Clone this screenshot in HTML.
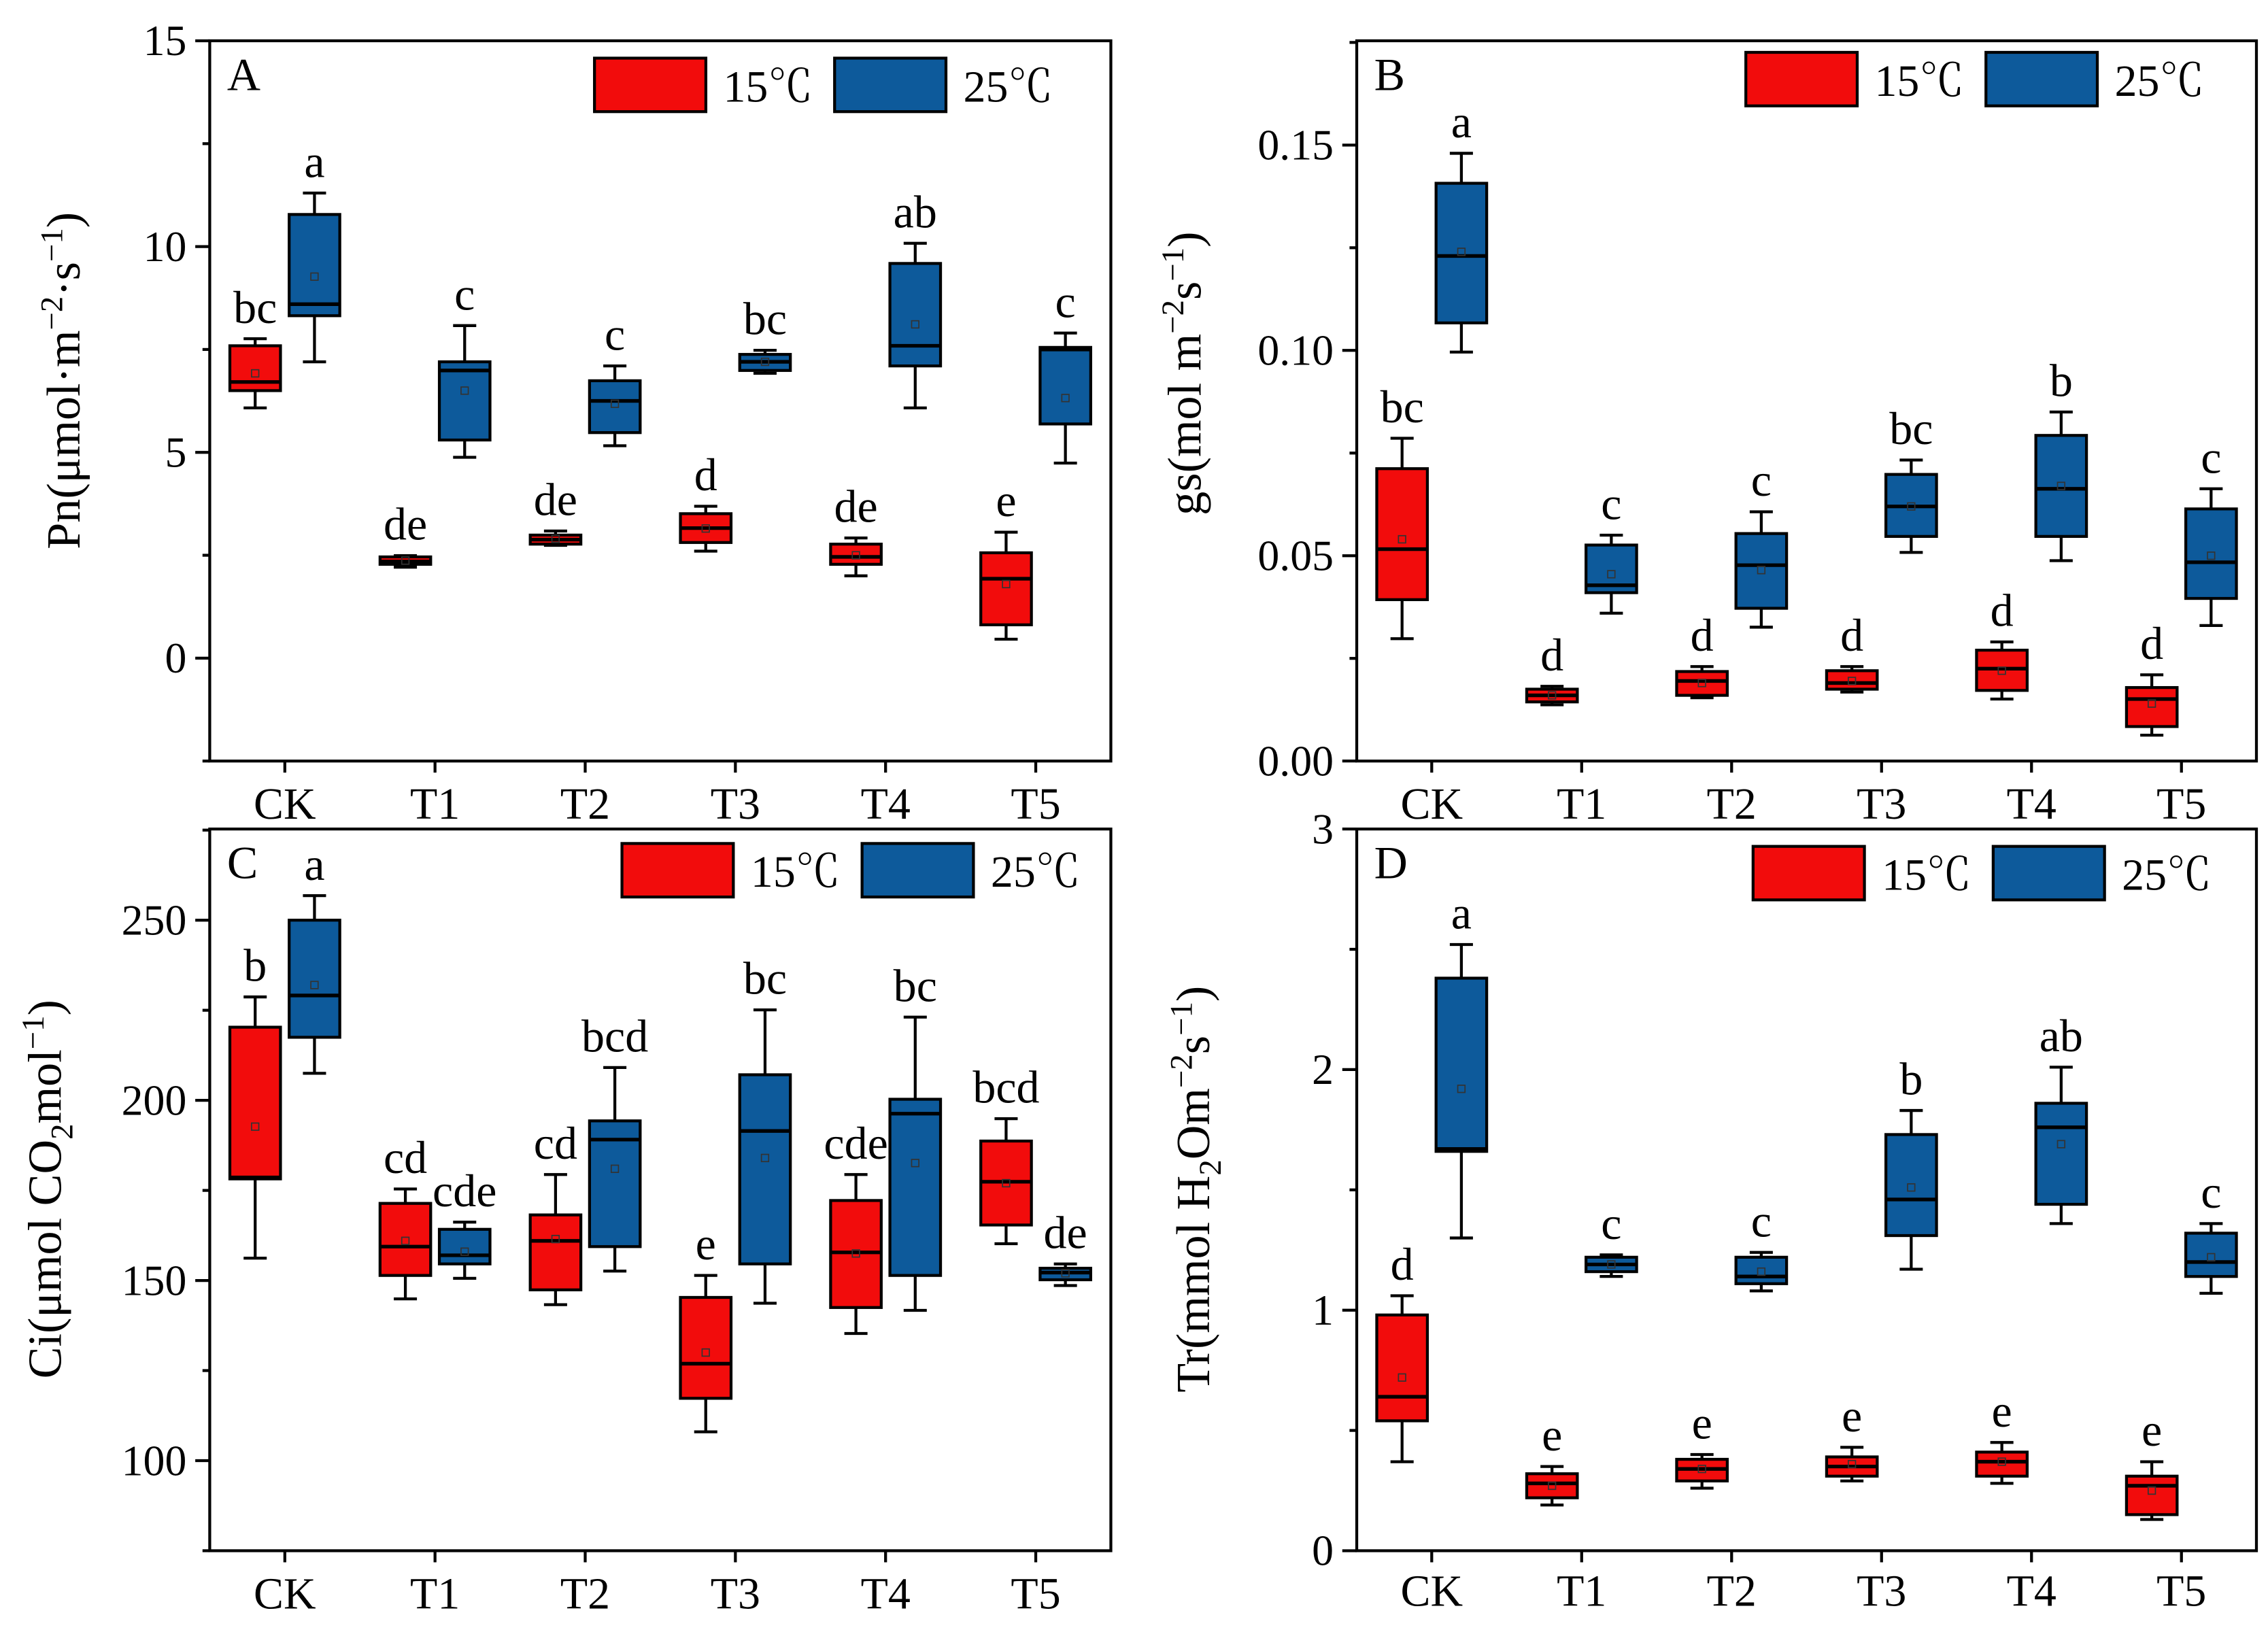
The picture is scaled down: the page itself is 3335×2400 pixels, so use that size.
<!DOCTYPE html>
<html><head><meta charset="utf-8">
<style>
html,body{margin:0;padding:0;background:#fff;}
svg{display:block;}
text{font-family:"Liberation Serif",serif;fill:#000;}
.leg{font-family:"Liberation Serif","Noto Serif CJK SC",serif;}
</style></head>
<body>
<svg id="chart" width="3335" height="2400" viewBox="0 0 1568 1128" xmlns="http://www.w3.org/2000/svg"></svg>
<script>
// Data: each box = [whiskerMin, q1, median, q3, whiskerMax, mean]
const categories = ["CK","T1","T2","T3","T4","T5"];
const seriesNames = ["15℃","25℃"];

const pnRed  = [[6.08,6.5,6.71,7.59,7.76,6.92],[2.21,2.28,2.35,2.46,2.49,2.37],[2.74,2.77,2.88,2.99,3.09,2.9],[2.6,2.81,3.16,3.51,3.69,3.15],[2.0,2.28,2.46,2.77,2.92,2.5],[0.46,0.81,1.93,2.56,3.06,1.8]];
const pnBlue = [[7.2,8.32,8.6,10.78,11.3,9.27],[4.88,5.3,6.99,7.2,8.08,6.5],[5.16,5.48,6.25,6.74,7.1,6.18],[6.92,6.99,7.2,7.38,7.48,7.2],[6.08,7.1,7.59,9.59,10.08,8.11],[4.74,5.69,7.5,7.55,7.9,6.32]];
const pnLabelsRed  = ["bc","de","de","d","de","e"];
const pnLabelsBlue = ["a","c","c","bc","ab","c"];
const pnTicks = [0,5,10,15];

const gsRed  = [[0.0298,0.0393,0.0516,0.0712,0.0786,0.054],[0.0137,0.0144,0.016,0.0175,0.0182,0.016],[0.0154,0.016,0.0195,0.0218,0.023,0.019],[0.0168,0.0175,0.019,0.022,0.023,0.0195],[0.0151,0.0172,0.0225,0.027,0.029,0.022],[0.0063,0.0084,0.0151,0.0179,0.021,0.014]];
const gsBlue = [[0.0996,0.1067,0.123,0.1407,0.148,0.124],[0.036,0.041,0.0428,0.0526,0.055,0.0455],[0.0326,0.0372,0.0477,0.0554,0.0607,0.0465],[0.0508,0.0547,0.062,0.0698,0.0733,0.062],[0.0488,0.0547,0.0663,0.0793,0.085,0.067],[0.033,0.0396,0.0484,0.0614,0.0663,0.05]];
const gsLabelsRed  = ["bc","d","d","d","d","d"];
const gsLabelsBlue = ["a","c","c","bc","b","c"];
const gsTicks = [0,0.05,0.10,0.15];

const ciRed  = [[156.2,178.2,178.6,220.3,228.7,192.7],[144.9,151.4,159.4,171.4,175.4,161],[143.3,147.4,161,168.2,179.4,161.5],[108,117.3,126.9,145.3,151.4,130],[135.3,142.5,157.8,172.2,179.4,157.5],[160.2,165.4,177.4,188.7,194.9,177]];
const ciBlue = [[207.5,217.5,229.1,250,256.8,232],[150.6,154.6,157,164.2,166.2,158],[152.6,159.4,189.1,194.3,209.1,181],[143.7,154.6,191.5,207.1,225.1,184],[141.7,151.4,196.3,200.3,223.1,182.6],[148.6,150.2,152.2,153.4,154.6,152]];
const ciLabelsRed  = ["b","cd","cd","e","cde","bcd"];
const ciLabelsBlue = ["a","cde","bcd","bc","bc","de"];
const ciTicks = [100,150,200,250];

const trRed  = [[0.37,0.54,0.64,0.98,1.06,0.72],[0.19,0.22,0.28,0.32,0.35,0.27],[0.26,0.29,0.34,0.38,0.4,0.34],[0.29,0.31,0.35,0.39,0.43,0.36],[0.28,0.31,0.37,0.41,0.45,0.37],[0.13,0.15,0.27,0.31,0.37,0.25]];
const trBlue = [[1.3,1.66,1.67,2.38,2.52,1.92],[1.14,1.16,1.19,1.22,1.23,1.19],[1.08,1.11,1.14,1.22,1.24,1.16],[1.17,1.31,1.46,1.73,1.83,1.51],[1.36,1.44,1.76,1.86,2.01,1.69],[1.07,1.14,1.2,1.32,1.36,1.22]];
const trLabelsRed  = ["d","e","e","e","e","e"];
const trLabelsBlue = ["a","c","c","b","ab","c"];
const trTicks = [0,1,2,3];

const RED="#f20c0c", BLUE="#0d5a9b";
const NS="http://www.w3.org/2000/svg";
const svg=document.getElementById("chart");
function el(tag,attrs,parent){const e=document.createElementNS(NS,tag);for(const k in attrs)e.setAttribute(k,attrs[k]);(parent||svg).appendChild(e);return e;}

function panel(cfg){
  const g=el("g",{});
  
  
  const L=cfg.L,T=cfg.T,W=cfg.W,H=cfg.H;
  const yS=v=>T+H-(v-cfg.min)/(cfg.max-cfg.min)*H;
  const xS=i=>L+W*(i+0.5)/categories.length;
  const step=cfg.ticks[1]-cfg.ticks[0];
  cfg.ticks.forEach((t,k)=>{
    const y=yS(t);
    const tk=el("line",{x1:L-10,x2:L,y1:y,y2:y,stroke:"#000","stroke-width":2},g);
    
    
    const lb=el("text",{x:L-16,y:y+10,"text-anchor":"end","font-size":30},g);
    lb.textContent=cfg.fmt(t);
    
    
  });
  for(let v=cfg.ticks[0]-step/2; v<=cfg.max; v+=step){
    if(v<cfg.min) continue;
    const y=yS(v);
    const mt=el("line",{x1:L-5,x2:L,y1:y,y2:y,stroke:"#000","stroke-width":2},g);
    
    
  }
  categories.forEach((c,i)=>{
    const x=xS(i);
    const tk=el("line",{x1:x,x2:x,y1:T+H,y2:T+H+8,stroke:"#000","stroke-width":2},g);
    
    
    const lb=el("text",{x:x,y:T+H+cfg.catDy,"text-anchor":"middle","font-size":31},g);
    lb.textContent=c;
    
    
  });
  const bw=35, off=20.5;
  [[cfg.red,RED,-off,cfg.labR],[cfg.blue,BLUE,off,cfg.labB]].forEach(([data,col,o,labs],si)=>{
    data.forEach((d,i)=>{
      const cx=xS(i)+o;
      const bg=el("g",{},g);
      
      
      el("line",{x1:cx,x2:cx,y1:yS(d[0]),y2:yS(d[4]),stroke:"#000","stroke-width":2},bg);
      el("line",{x1:cx-8,x2:cx+8,y1:yS(d[0]),y2:yS(d[0]),stroke:"#000","stroke-width":2},bg);
      el("line",{x1:cx-8,x2:cx+8,y1:yS(d[4]),y2:yS(d[4]),stroke:"#000","stroke-width":2},bg);
      el("rect",{x:cx-bw/2,y:yS(d[3]),width:bw,height:Math.max(1,yS(d[1])-yS(d[3])),fill:col,stroke:"#000","stroke-width":2},bg);
      el("line",{x1:cx-bw/2,x2:cx+bw/2,y1:yS(d[2]),y2:yS(d[2]),stroke:"#000","stroke-width":2.5},bg);
      el("rect",{x:cx-2.5,y:yS(d[5])-2.5,width:5,height:5,fill:"none",stroke:"#333","stroke-width":0.8},bg);
      const t=el("text",{x:cx,y:yS(d[4])-11,"text-anchor":"middle","font-size":32},g);
      t.textContent=labs[i];
      
      
    });
  });
  const fr=el("rect",{x:L,y:T,width:W,height:H,fill:"none",stroke:"#000","stroke-width":2},g);
  
  
  const pl=el("text",{x:L+12,y:T+34,"font-size":32},g);
  pl.textContent=cfg.letter;
  
  
  const lg=el("g",{},g);
  
  
  [[RED,cfg.leg[0]],[BLUE,cfg.leg[0]+166]].forEach(([col,x],k)=>{
    const r=el("rect",{x:x,y:cfg.leg[1],width:77,height:37,fill:col,stroke:"#000","stroke-width":2},lg);
    
    
    const t=el("text",{x:x+89,y:cfg.leg[1]+30,"font-size":31,"class":"leg"},lg);
    t.textContent=seriesNames[k];
    
    
  });
  const yt=el("text",{x:0,y:0,"font-size":33,"text-anchor":"middle",transform:`translate(${cfg.yt[0]},${cfg.yt[1]}) rotate(-90)`},g);
  yt.innerHTML=cfg.title;
  
  
}

panel({name:"panel-a",L:145,T:28,W:623,H:498,min:-2.5,max:15,ticks:pnTicks,fmt:v=>String(v),red:pnRed,blue:pnBlue,labR:pnLabelsRed,labB:pnLabelsBlue,letter:"A",leg:[411,40],catDy:40,yt:[55,263],
  title:'Pn(μmol·m<tspan dy="-12" font-size="22">−2</tspan><tspan dy="12">·s</tspan><tspan dy="-12" font-size="22">−1</tspan><tspan dy="12">)</tspan>'});
panel({name:"panel-b",L:938,T:28,W:622,H:498,min:0,max:0.1754,ticks:gsTicks,fmt:v=>v.toFixed(2),red:gsRed,blue:gsBlue,labR:gsLabelsRed,labB:gsLabelsBlue,letter:"B",leg:[1207,36],catDy:40,yt:[830,258],
  title:'gs(mol m<tspan dy="-12" font-size="22">−2</tspan><tspan dy="12">s</tspan><tspan dy="-12" font-size="22">−1</tspan><tspan dy="12">)</tspan>'});
panel({name:"panel-c",L:145,T:573,W:623,H:499,min:75,max:275.3,ticks:ciTicks,fmt:v=>String(v),red:ciRed,blue:ciBlue,labR:ciLabelsRed,labB:ciLabelsBlue,letter:"C",leg:[430,583],catDy:40,yt:[42,822],
  title:'Ci(μmol CO<tspan dy="8" font-size="22">2</tspan><tspan dy="-8">mol</tspan><tspan dy="-12" font-size="22">−1</tspan><tspan dy="12">)</tspan>'});
panel({name:"panel-d",L:938,T:573,W:622,H:499,min:0,max:3,ticks:trTicks,fmt:v=>String(v),red:trRed,blue:trBlue,labR:trLabelsRed,labB:trLabelsBlue,letter:"D",leg:[1212,585],catDy:38,yt:[836,822],
  title:'Tr(mmol H<tspan dy="8" font-size="22">2</tspan><tspan dy="-8">Om</tspan><tspan dy="-12" font-size="22">−2</tspan><tspan dy="12">s</tspan><tspan dy="-12" font-size="22">−1</tspan><tspan dy="12">)</tspan>'});
</script>
</body></html>
